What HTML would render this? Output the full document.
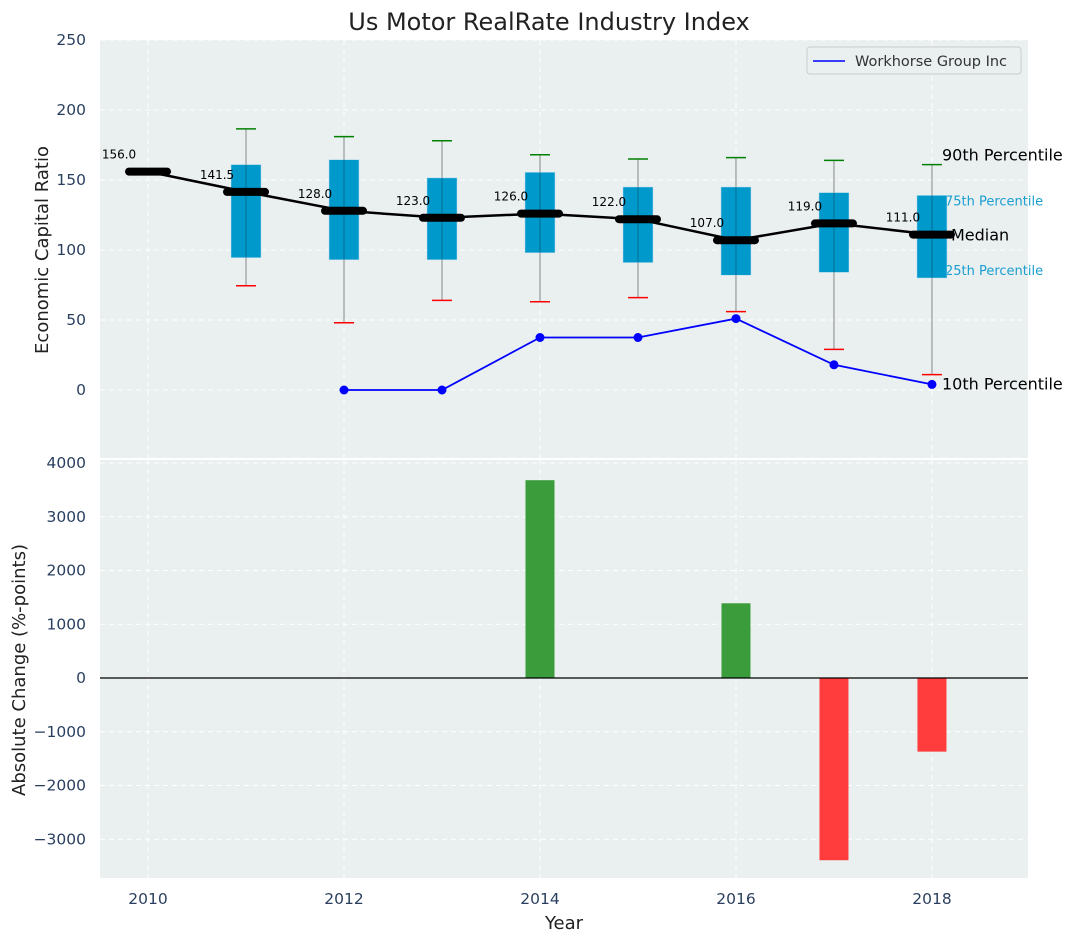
<!DOCTYPE html>
<html><head><meta charset="utf-8"><style>
body{margin:0;background:#fff;}
svg{display:block;font-family:"DejaVu Sans","Liberation Sans",sans-serif;}
</style></head><body>
<svg id="chart" width="1077" height="942" xmlns="http://www.w3.org/2000/svg"></svg>
<script>
const years=[2010,2011,2012,2013,2014,2015,2016,2017,2018];
const medians=[156,141.5,128,123,126,122,107,119,111];
const q1=[null,94.5,93,93,98,91,82,84,80];
const q3=[null,161,164.5,151.5,155.5,145,145,141,139];
const p10=[null,74.5,48,64,63,66,56,29,11];
const p90=[null,186.5,181,178,168,165,166,164,161];
const wkYears=[2012,2013,2014,2015,2016,2017,2018];
const wkVals=[0,0,37.5,37.5,51,18,4];
const chgYears=[2014,2016,2017,2018];
const chgVals=[3680,1390,-3390,-1370];
const topTicks=[0,50,100,150,200,250];
const botTicks=[-3000,-2000,-1000,0,1000,2000,3000,4000];
const xTicks=[2010,2012,2014,2016,2018];

const NS='http://www.w3.org/2000/svg';
const svg=document.getElementById('chart');
function el(tag,attrs,parent){const e=document.createElementNS(NS,tag);for(const k in attrs)e.setAttribute(k,attrs[k]);(parent||svg).appendChild(e);return e;}
const L=100,R=1028;
const X=v=>L+(v-2009.51)/(2018.98-2009.51)*(R-L);
const Yt=v=>390-v*1.4;
const Yb=v=>678-v*0.05375;

let bg=el('rect',{x:L,y:40,width:R-L,height:418,fill:'#eaeff0'});

let bg2=el('rect',{x:L,y:460,width:R-L,height:418,fill:'#eaeff0'});


xTicks.forEach(t=>{
 el('line',{x1:X(t),x2:X(t),y1:40,y2:458,stroke:'#fff','stroke-dasharray':'5,4','stroke-width':1});
 el('line',{x1:X(t),x2:X(t),y1:460,y2:878,stroke:'#fff','stroke-dasharray':'5,4','stroke-width':1});
 let tx=el('text',{x:X(t),y:904,'text-anchor':'middle','font-size':15.5,fill:'#2a3f5f'});tx.textContent=t;
 
});
topTicks.forEach(t=>{
 el('line',{x1:L,x2:R,y1:Yt(t),y2:Yt(t),stroke:'#fff','stroke-dasharray':'5,4'});
 let tx=el('text',{x:86,y:Yt(t)+5,'text-anchor':'end','font-size':15.5,fill:'#2a3f5f'});tx.textContent=t;
 
});
botTicks.forEach(t=>{
 el('line',{x1:L,x2:R,y1:Yb(t),y2:Yb(t),stroke:'#fff','stroke-dasharray':'5,4'});
 let tx=el('text',{x:86,y:Yb(t)+5,'text-anchor':'end','font-size':15.5,fill:'#2a3f5f'});tx.textContent=t<0?'\u2212'+(-t):t;
 
});

const lx=X(2018)+10;
[['90th Percentile',Yt(p90[8])-4,'#000',16],['75th Percentile',Yt(q3[8])+10,'#1a9fd0',13],['Median',Yt(medians[8])+6,'#000',16],['25th Percentile',Yt(q1[8])-3,'#1a9fd0',13],['10th Percentile',Yt(wkVals[6])+5,'#000',16]].forEach((a,i)=>{
 let tx=el('text',{x:i==2?lx+9:(i==1||i==3?lx+3:lx),y:a[1],'font-size':a[3],fill:a[2]});tx.textContent=a[0];
 
});

years.forEach((y,i)=>{
 if(q1[i]==null)return;
 const cx=X(y),hw=15;
 let w=el('line',{x1:cx,x2:cx,y1:Yt(p90[i]),y2:Yt(p10[i]),stroke:'#888','stroke-width':1});
 
 let b=el('rect',{x:cx-hw,y:Yt(q3[i]),width:2*hw,height:Yt(q1[i])-Yt(q3[i]),fill:'#0099cc',stroke:'#bde','stroke-width':0.5});
 
 el('line',{x1:cx,x2:cx,y1:Yt(q3[i]),y2:Yt(q1[i]),stroke:'#0c5a78','stroke-width':1,opacity:0.7});
 let c1=el('line',{x1:cx-10,x2:cx+10,y1:Yt(p90[i]),y2:Yt(p90[i]),stroke:'green','stroke-width':1.5});
 
 let c2=el('line',{x1:cx-10,x2:cx+10,y1:Yt(p10[i]),y2:Yt(p10[i]),stroke:'red','stroke-width':1.5});
 
});

let mp=el('polyline',{points:years.map((y,i)=>X(y)+','+Yt(medians[i])).join(' '),fill:'none',stroke:'#000','stroke-width':2.5});

years.forEach((y,i)=>{
 let m=el('line',{x1:X(y)-19,x2:X(y)+19,y1:Yt(medians[i]),y2:Yt(medians[i]),stroke:'#000','stroke-width':8,'stroke-linecap':'round'});
 
 let t=el('text',{x:X(y)-29,y:Yt(medians[i])-13,'text-anchor':'middle','font-size':12,fill:'#000'});t.textContent=medians[i].toFixed(1);
 
});

let wl=el('polyline',{points:wkYears.map((y,i)=>X(y)+','+Yt(wkVals[i])).join(' '),fill:'none',stroke:'blue','stroke-width':1.8});

wkYears.forEach((y,i)=>{let c=el('circle',{cx:X(y),cy:Yt(wkVals[i]),r:4.5,fill:'blue'});
 });

let lg=el('g',{});
el('rect',{x:807,y:47,width:214,height:27,rx:3,fill:'#eaeff0',stroke:'#ccc'},lg);
el('line',{x1:813,x2:845,y1:61,y2:61,stroke:'blue','stroke-width':1.6},lg);
let lt=el('text',{x:855,y:66,'font-size':14.5,fill:'#333'},lg);lt.textContent='Workhorse Group Inc';

chgYears.forEach((y,i)=>{
 const v=chgVals[i],w=29;
 let b=el('rect',{x:X(y)-w/2,y:Math.min(Yb(v),Yb(0)),width:w,height:Math.abs(Yb(v)-Yb(0)),fill:v>=0?'#3a9c3a':'#ff3d3d'});
 
});
let zl=el('line',{x1:L,x2:R,y1:Yb(0),y2:Yb(0),stroke:'#000','stroke-width':1.2});


let tt=el('text',{x:549,y:30,'text-anchor':'middle','font-size':24,fill:'#222'});tt.textContent='Us Motor RealRate Industry Index';

let xl=el('text',{x:564,y:929,'text-anchor':'middle','font-size':18,fill:'#222'});xl.textContent='Year';

let yl1=el('text',{x:0,y:0,'text-anchor':'middle','font-size':18,fill:'#222',transform:'translate(48,250) rotate(-90)'});yl1.textContent='Economic Capital Ratio';

let yl2=el('text',{x:0,y:0,'text-anchor':'middle','font-size':18,fill:'#222',transform:'translate(25,670) rotate(-90)'});yl2.textContent='Absolute Change (%-points)';

</script>
</body></html>
